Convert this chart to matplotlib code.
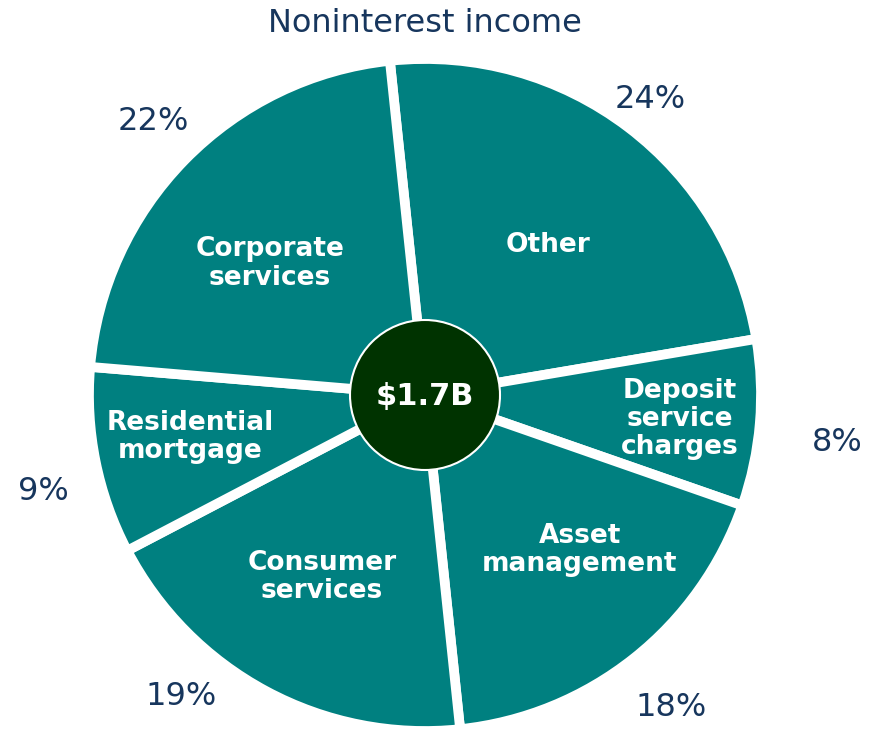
import matplotlib
matplotlib.use("Agg")
import matplotlib.pyplot as plt
import numpy as np

# dati (in senso orario partendo da "Other")
categorie = ["Other", "Deposit\nservice\ncharges", "Asset\nmanagement",
             "Consumer\nservices", "Residential\nmortgage", "Corporate\nservices"]
percentuali = [24, 8, 18, 19, 9, 22]
etichette_pct = ["24%", "8%", "18%", "19%", "9%", "22%"]
totale = "$1.7B"
titolo = "Noninterest income"

# posizione delle etichette (raggio relativo) e spostamenti angolari rispetto al centro dello spicchio
raggio_nomi = [0.577, 0.762, 0.652, 0.622, 0.71, 0.605]
shift_nomi = [-2.2, -0.6, 6.6, -1.3, -1.3, 4.1]
raggio_pct = [1.11, 1.235, 1.18, 1.15, 1.17, 1.15]
shift_pct = [0, -1.5, 0, -11, 2.5, -1]

teal = "#008080"
verde_scuro = "#003300"
blu = "#17365D"

fig = plt.figure(figsize=(8.82, 7.30), dpi=100)
ax = fig.add_axes([0, 0, 1, 1])

# centro e raggio della torta in pixel
cx, cy, r = 425, 395, 336

spicchi, _ = ax.pie(percentuali, startangle=96, counterclock=False, colors=[teal] * 6,
                    radius=1, wedgeprops=dict(edgecolor="white", linewidth=7))

# la pie reimposta i limiti, quindi li rimetto dopo
ax.set_xlim(-cx / r, (882 - cx) / r)
ax.set_ylim(-(730 - cy) / r, cy / r)
ax.set_aspect("equal")
ax.axis("off")

for i, w in enumerate(spicchi):
    medio = (w.theta1 + w.theta2) / 2
    a = np.deg2rad(medio + shift_nomi[i])
    ax.text(raggio_nomi[i] * np.cos(a), raggio_nomi[i] * np.sin(a), categorie[i],
            ha="center", va="center", color="white", fontsize=19, fontweight="bold",
            linespacing=1.12)
    b = np.deg2rad(medio + shift_pct[i])
    ax.text(raggio_pct[i] * np.cos(b), raggio_pct[i] * np.sin(b) - 0.006, etichette_pct[i],
            ha="center", va="center", color=blu, fontsize=23)

# cerchio centrale
cerchio = plt.Circle((0, 0), 75 / r, facecolor=verde_scuro, edgecolor="white", linewidth=1.5, zorder=5)
ax.add_patch(cerchio)
ax.text(0, -0.005, totale, ha="center", va="center", color="white", fontsize=22,
        fontweight="bold", zorder=6)

ax.text(0, (cy - 24) / r, titolo, ha="center", va="center", color=blu, fontsize=23)

fig.savefig("out.png", dpi=100)
